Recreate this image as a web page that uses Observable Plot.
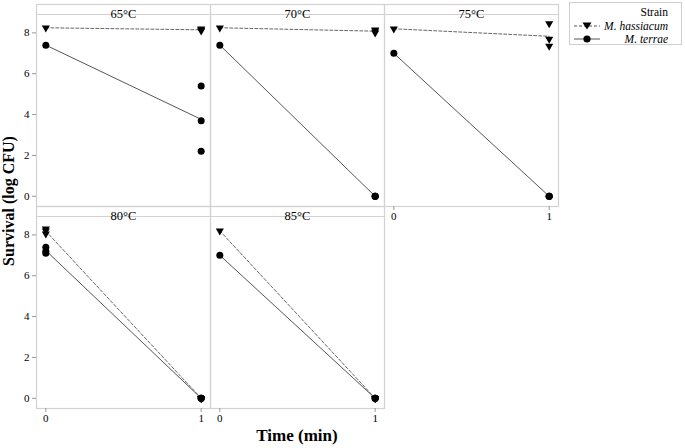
<!DOCTYPE html>
<html><head><meta charset="utf-8">
<script src="https://cdn.jsdelivr.net/npm/d3@7"></script>
<script src="https://cdn.jsdelivr.net/npm/@observablehq/plot@0.6"></script>
<style>
body{margin:0;background:#fff;font-family:"Liberation Serif","Times New Roman",serif;}
#wrap{position:relative;width:685px;height:448px;}
#wrap svg, #wrap svg text, #legend, #legend div{font-family:"Liberation Serif","Times New Roman",serif !important;}
#ylab{position:absolute;left:9px;top:201px;transform:translate(-50%,-50%) rotate(-90deg);font-weight:bold;font-size:16px;line-height:1;white-space:nowrap;}
#xlab{position:absolute;left:297px;top:435px;transform:translate(-50%,-50%);font-weight:bold;font-size:17px;line-height:1;white-space:nowrap;}
#legend{position:absolute;left:569px;top:2px;width:113px;height:43px;border:1px solid #cfcfcf;box-sizing:border-box;font-size:11.5px;line-height:1;}
#legend .t{position:absolute;right:13px;top:4px;}
#legend .r{position:absolute;right:13px;font-style:italic;}
#legend svg{position:absolute;left:3px;}
</style></head><body>
<div id="wrap">
  <div id="ylab">Survival (log CFU)</div>
  <div id="xlab">Time (min)</div>
  <div id="legend">
    <div class="t">Strain</div>
    <svg width="28" height="12" style="top:17px"><line x1="1" x2="27" y1="6" y2="6" stroke="#555" stroke-dasharray="3,2"/><path d="M9.5,2.5 L18.5,2.5 L14,9.5 Z" fill="#000"/></svg>
    <div class="r" style="top:17.5px">M. hassiacum</div>
    <svg width="28" height="12" style="top:30px"><line x1="1" x2="27" y1="6" y2="6" stroke="#555"/><circle cx="14" cy="6" r="3.6" fill="#000"/></svg>
    <div class="r" style="top:30.5px">M. terrae</div>
  </div>
</div>
<script>
const temps = ["65°C", "70°C", "75°C", "80°C", "85°C"];
const strains = ["M. hassiacum", "M. terrae"];
const hassiacumT0 = [[8.25], [8.25], [8.2], [8.3, 8.2, 8.05], [8.2]];
const hassiacumT1 = [[8.1, 8.15, 8.2], [8.0, 8.1, 8.15], [8.45, 7.7, 7.35], [0, 0, 0], [0, 0, 0]];
const terraeT0 = [[7.4], [7.4], [7.0], [7.4, 7.2, 7.1], [7.0]];
const terraeT1 = [[5.4, 3.7, 2.2], [0, 0, 0], [0, 0, 0], [0, 0, 0], [0, 0, 0]];
const xTicks = [0, 1];
const yTicks = [0, 2, 4, 6, 8];

const rows = [];
temps.forEach((temp, i) => {
  const col = i % 3, row = Math.floor(i / 3);
  const add = (strain, time, vals) => vals.forEach(v => rows.push({temp, col, row, strain, time, value: v}));
  add(strains[0], 0, hassiacumT0[i]);
  add(strains[0], 1, hassiacumT1[i]);
  add(strains[1], 0, terraeT0[i]);
  add(strains[1], 1, terraeT1[i]);
});
const panels = temps.map((temp, i) => ({temp, col: i % 3, row: Math.floor(i / 3)}));
const hass = rows.filter(d => d.strain === strains[0]);
const terr = rows.filter(d => d.strain === strains[1]);
const gridColor = "#d2d2d2";
const serif = '"Liberation Serif", "Times New Roman", serif';

const chart = Plot.plot({
  width: 685, height: 448,
  marginTop: 14, marginBottom: 39, marginLeft: 35, marginRight: 127,
  style: {fontFamily: serif, fontSize: "11px", background: "white", color: "#000"},
  fx: {axis: null, padding: 0},
  fy: {axis: null, paddingInner: 0.0494, paddingOuter: 0},
  x: {domain: [-0.06, 1.06]},
  y: {domain: [-0.5, 8.9]},
  marks: [
    Plot.frame({stroke: gridColor, strokeWidth: 1.2, insetTop: -10}),
    Plot.frame({anchor: "top", stroke: gridColor, strokeWidth: 1.2}),
    Plot.axisX({ticks: xTicks, tickFormat: d => String(d), tickSize: 4, tickPadding: 2, stroke: "#999", label: null, facetAnchor: "bottom-empty", fontFamily: serif}),
    Plot.axisY({ticks: yTicks, tickFormat: d => String(d), tickSize: 4, tickPadding: 3, stroke: "#999", label: null, facetAnchor: "left", fontFamily: serif}),
    Plot.text(panels, {fx: "col", fy: "row", text: "temp", frameAnchor: "top", dy: -5, fontSize: 12.5, fontFamily: serif}),
    Plot.line(hass, Plot.groupX({y: "mean"}, {x: "time", y: "value", fx: "col", fy: "row", stroke: "#666", strokeWidth: 1, strokeDasharray: "3,2"})),
    Plot.line(terr, Plot.groupX({y: "mean"}, {x: "time", y: "value", fx: "col", fy: "row", stroke: "#555", strokeWidth: 1})),
    Plot.dot(hass, {x: "time", y: "value", fx: "col", fy: "row", symbol: "triangle", rotate: 180, r: 3, fill: "#000", stroke: "none"}),
    Plot.dot(terr, {x: "time", y: "value", fx: "col", fy: "row", symbol: "circle", r: 3.5, fill: "#000", stroke: "none"})
  ]
});
document.getElementById("wrap").prepend(chart);
chart.style.position = "absolute";
chart.style.left = "0";
chart.style.top = "0";
</script>
</body></html>
